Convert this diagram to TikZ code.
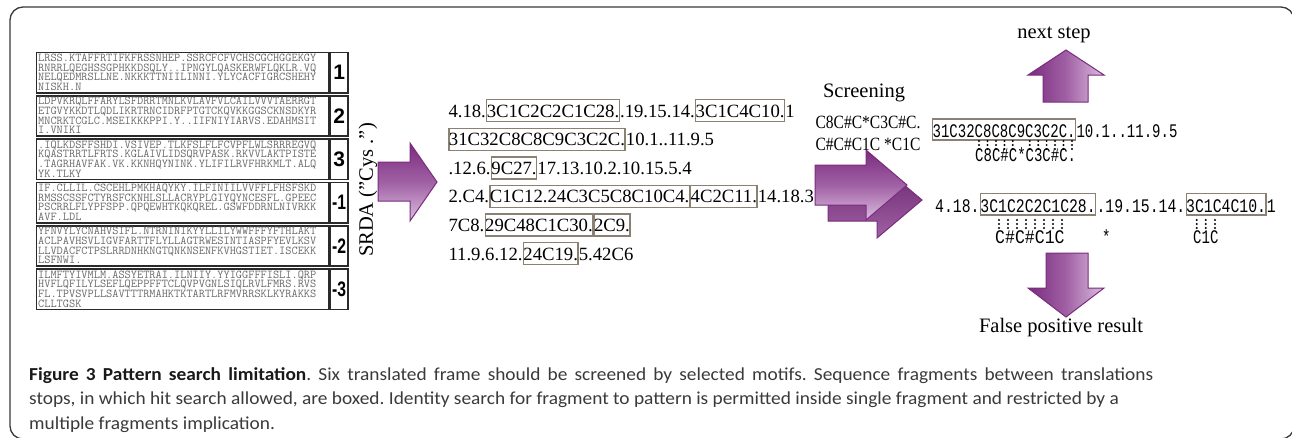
\documentclass[tikz,border=0pt]{standalone}
\usepackage{fontspec}
\usepackage{graphicx}
\setmainfont{Liberation Serif}
\newfontfamily\serifnarrow[FakeStretch=0.83]{Liberation Serif}
\newfontfamily\monoA[FakeStretch=0.73]{Liberation Mono}
\newfontfamily\monoB[FakeStretch=0.77]{Liberation Mono}
\newfontfamily\monoC[FakeStretch=0.86]{Liberation Mono}
\newfontfamily\capfont[FakeStretch=1.058]{Carlito}
\newfontfamily\numfont{Liberation Sans}
\frenchspacing
\definecolor{arrdark}{HTML}{7A2C7E}
\definecolor{arrmid}{HTML}{A060A4}
\definecolor{arrlight}{HTML}{DCBEDF}
\definecolor{boxc}{HTML}{8A8174}
\definecolor{seqgray}{HTML}{6A6A6A}
\definecolor{framec}{HTML}{3A3A3A}
\definecolor{capc}{HTML}{3A3A3A}
\definecolor{cellline}{HTML}{2A2A2A}
\tikzset{
  mseg/.style={inner sep=0pt, anchor=base west, font=\fontsize{18.7}{20}\selectfont},
  mbox/.style={mseg, draw=boxc, line width=1.3pt, text height=17.5pt, text depth=4.5pt},
  rsegA/.style={inner sep=0pt, anchor=base west, font=\fontsize{19.2}{20}\monoA},
  rboxA/.style={rsegA, draw=boxc, line width=1.3pt, text height=18pt, text depth=3pt},
  rsegB/.style={inner sep=0pt, anchor=base west, font=\fontsize{19.2}{20}\monoB},
  rboxB/.style={rsegB, draw=boxc, line width=1.3pt, text height=18.5pt, text depth=3pt},
  rsegC/.style={inner sep=0pt, anchor=base west, font=\fontsize{19.2}{20}\monoC},
  lbltext/.style={inner sep=0pt, font=\fontsize{20.5}{22}\selectfont},
  motif/.style={inner sep=0pt, font=\fontsize{18.7}{20}\serifnarrow},
  seqcell/.style={draw=cellline, line width=1.5pt, minimum width=292.3pt, minimum height=40.3pt, inner sep=0pt, anchor=north west},
  numcell/.style={draw=cellline, line width=1.5pt, minimum width=17.7pt, minimum height=40.3pt, inner sep=0pt, anchor=north west, font=\numfont\bfseries\fontsize{21}{21}\selectfont},
  seqtext/.style={inner sep=0pt, anchor=base west, text=seqgray, font=\ttfamily\fontsize{12}{9.67}\selectfont},
  harrow/.style={top color=arrdark, bottom color=arrlight, middle color=arrmid, draw=arrdark, line width=1pt, line join=miter},
  harrowback/.style={top color=arrdark!85!black, bottom color=arrmid, draw=arrdark, line width=1pt, line join=miter},
  varrow/.style={left color=arrdark, right color=arrlight, middle color=arrmid, draw=arrdark, line width=1pt, line join=miter},
  capline/.style={inner sep=0pt, anchor=base west, text=capc, font=\capfont\fontsize{18.3}{20}\selectfont},
  dotc/.style={fill=black}
}
\newcommand\seqbox[4]{%
  \node[seqcell] (s#1) at (35.7,#2) {};
  \node[numcell] (n#1) at (s#1.north east) {#3};
  \node[seqtext] (t#1) at ([xshift=2.3pt, yshift=-9.9pt]s#1.north west) {\parbox[t]{290pt}{#4}};
}
\begin{document}
\begin{tikzpicture}[x=1pt,y=-1pt]
\useasboundingbox (0,0) rectangle (1292,437);
\fill[white] (0,0) rectangle (1292,437);
\begin{scope}
  \clip (0,0) rectangle (1292,437);
  \draw[framec, line width=1.3pt, rounded corners=13pt] (10,7) rectangle (1294,439);
\end{scope}

% ---- six translated frames
\seqbox{1}{51.7}{1}{LRSS.KTAFFRTIFKFRSSNHEP.SSRCFCFVCHSCGCHGGEKGY\\RNRRLQEGHSSGPHKKDSQLY..IPNGYLQASKERWFLQKLR.VQ\\NELQEDMRSLLNE.NKKKTTNIILINNI.YLYCACFIGRCSHEHY\\NISKH.N}
\seqbox{2}{95}{2}{LDPVKRQLFFARYLSFDRRTMNLKVLAVFVLCAILVVVTAERRGT\\ETGVYKKDTLQDLIKRTRNCIDRFPTGTCKQVKKGGSCKNSDKYR\\MNCRKTCGLC.MSEIKKKPPI.Y..IIFNIYIARVS.EDAHMSIT\\I.VNIKI}
\seqbox{3}{138.3}{3}{.IQLKDSFFSHDI.VSIVEP.TLKFSLFLFCVPFLWLSRRREGVQ\\KQASTRRTLFRTS.KGLAIVLIDSQRVPASK.RKVVLAKTPISTE\\.TAGRHAVFAK.VK.KKNHQYNINK.YLIFILRVFHRKMLT.ALQ\\YK.TLKY}
\seqbox{4}{181.7}{\scalebox{0.75}[1]{-1}}{IF.CLLIL.CSCEHLPMKHAQYKY.ILFINIILVVFFLFHSFSKD\\RMSSCSSFCTYRSFCKNHLSLLACRYPLGIYQYNCESFL.GPEEC\\PSCRRLFLYPFSPP.QPQEWHTKQKQREL.GSWFDDRNLNIVRKK\\AVF.LDL}
\seqbox{5}{225}{\scalebox{0.75}[1]{-2}}{YFNVYLYCNAHVSIFL.NTRNINIKYYLLILYWWFFFYFTHLAKT\\ACLPAVHSVLIGVFARTTFLYLLAGTRWESINTIASPFYEVLKSV\\LLVDACFCTPSLRRDNHKNGTQNKNSENFKVHGSTIET.ISCEKK\\LSFNWI.}
\seqbox{6}{268.3}{\scalebox{0.75}[1]{-3}}{ILMFTYIVMLM.ASSYETRAI.ILNIIY.YYIGGFFFISLI.QRP\\HVFLQFILYLSEFLQEPPFFTCLQVPVGNLSIQLRVLFMRS.RVS\\FL.TPVSVPLLSAVTTTRMAHKTKTARTLRFMVRRSKLKYRAKKS\\CLLTGSK}

% ---- SRDA label and first arrow
\node[lbltext, rotate=90] (srda) at (368,190) {SRDA (”Cys .”)};
\draw[harrow] (378,162) -- (410,162) -- (410,143) -- (437,182) -- (410,221) -- (410,201) -- (378,201) -- cycle;

% ---- middle fragment lines
\node[mseg] (m1a) at (448.3,117.3) {4.18.};
\node[mbox] (m1b) at (m1a.base east) {3C1C2C2C1C28.};
\node[mseg] (m1c) at (m1b.base east) {.19.15.14.};
\node[mbox] (m1d) at (m1c.base east) {3C1C4C10.};
\node[mseg] (m1e) at (m1d.base east) {1};

\node[mbox] (m2a) at (448.3,145.8) {31C32C8C8C9C3C2C.};
\node[mseg] (m2b) at (m2a.base east) {10.1..11.9.5};

\node[mseg] (m3a) at (448.3,174.4) {.12.6.};
\node[mbox] (m3b) at (m3a.base east) {9C27.};
\node[mseg] (m3c) at (m3b.base east) {17.13.10.2.10.15.5.4};

\node[mseg] (m4a) at (448.3,202.9) {2.C4.};
\node[mbox] (m4b) at (m4a.base east) {C1C12.24C3C5C8C10C4.};
\node[mbox] (m4c) at (m4b.base east) {4C2C11.};
\node[mseg] (m4d) at (m4c.base east) {14.18.3};

\node[mseg] (m5a) at (448.3,231.5) {7C8.};
\node[mbox] (m5b) at (m5a.base east) {29C48C1C30.};
\node[mbox] (m5c) at (m5b.base east) {2C9.};

\node[mseg] (m6a) at (448.3,260) {11.9.6.12.};
\node[mbox] (m6b) at (m6a.base east) {24C19.};
\node[mseg] (m6c) at (m6b.base east) {5.42C6};

% ---- screening
\node[lbltext] (scr) at (864,93) {Screening};
\node[motif] (mot1) at (868,122) {C8C\#C*C3C\#C.};
\node[motif] (mot2) at (868,144) {C\#C\#C1C *C1C};
\draw[harrowback] (828,179) -- (877,179) -- (877,162) -- (922,200) -- (877,238) -- (877,221) -- (828,221) -- cycle;
\draw[harrow] (815,165) -- (866,165) -- (866,150) -- (907,185) -- (866,220) -- (866,205) -- (815,205) -- cycle;

% ---- right results
\node[rboxA] (r1a) at (932,137) {31C32C8C8C9C3C2C.};
\node[rsegA] (r1b) at (r1a.base east) {10.1..11.9.5};
\foreach \x in {979,987.5,996,1004.4,1012.8,1029.7,1038.2,1046.6,1055,1063.5,1072}
  \foreach \y in {141,145,149} \fill[dotc] (\x,\y) circle (1.1pt);
\node[rsegA] (p1) at (975,161.7) {C8C\#C*C3C\#C.};

\node[rsegB] (r2a) at (935,212) {4.18.};
\node[rboxB] (r2b) at (r2a.base east) {3C1C2C2C1C28.};
\node[rsegB] (r2c) at (r2b.base east) {.19.15.14.};
\node[rboxB] (r2d) at (r2c.base east) {3C1C4C10.};
\node[rsegB] (r2e) at (r2d.base east) {1};
\foreach \x in {999,1008,1017,1026,1035,1044,1053,1062,1196.7,1205.7,1215}
  \foreach \y in {220,224,228} \fill[dotc] (\x,\y) circle (1.1pt);
\node[rsegC] (p2) at (995,243) {C\#C\#C1C};
\node[rsegA] (p3) at (1102,243) {*};
\node[rsegA] (p4) at (1193,243) {C1C};

% ---- up / down arrows
\node[lbltext] (next) at (1054,35) {next step};
\draw[varrow] (1043,102) -- (1043,75) -- (1028,75) -- (1066,50) -- (1104,75) -- (1088,75) -- (1088,102) -- cycle;
\draw[varrow] (1046,253) -- (1088,253) -- (1088,288) -- (1104,288) -- (1066,317) -- (1028,288) -- (1046,288) -- cycle;
\node[lbltext] (fpr) at (1061,328) {False positive result};

% ---- caption
\node[capline] (c1) at (29,380) {\makebox[1124pt][s]{{\bfseries\color{black!90}Figure 3 Pattern search limitation}. Six translated frame should be screened by selected motifs. Sequence fragments between translations}};
\node[capline] (c2) at (29,404.5) {stops, in which hit search allowed, are boxed. Identity search for fragment to pattern is permitted inside single fragment and restricted by a};
\node[capline] (c3) at (29,429) {multiple fragments implication.};
\end{tikzpicture}
\end{document}
